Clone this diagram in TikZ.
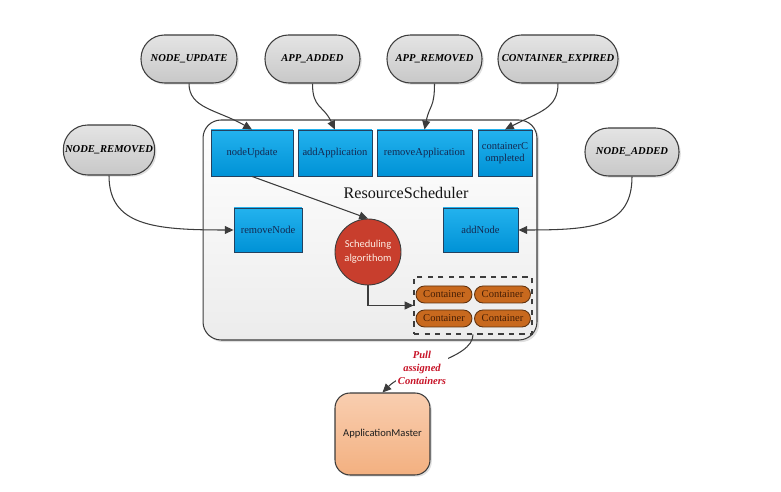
\documentclass[tikz,border=0pt]{standalone}
\usepackage{fontspec}
\setmainfont{Liberation Serif}
\newfontfamily\carlito{Carlito}
\usetikzlibrary{arrows.meta,shadows,shapes.geometric}
\definecolor{lineg}{RGB}{60,60,60}
\definecolor{bluetop}{RGB}{35,178,238}
\definecolor{bluebot}{RGB}{0,146,214}
\definecolor{blueline}{RGB}{35,65,95}
\definecolor{bluetext}{RGB}{20,40,80}
\definecolor{ovtop}{RGB}{228,228,228}
\definecolor{ovbot}{RGB}{200,200,200}
\definecolor{schedred}{RGB}{200,62,45}
\definecolor{contfill}{RGB}{200,105,30}
\definecolor{contline}{RGB}{95,50,15}
\definecolor{conttext}{RGB}{70,30,5}
\definecolor{amtop}{RGB}{249,206,176}
\definecolor{ambot}{RGB}{243,176,128}
\definecolor{pullred}{RGB}{200,20,40}
\tikzset{
  evt/.style={draw=lineg, line width=0.6pt, top color=ovtop, bottom color=ovbot,
    rounded corners=0.47cm, minimum height=0.96cm, inner sep=1pt,
    font=\fontsize{6}{7}\selectfont\bfseries\itshape,
    drop shadow={shadow xshift=1pt, shadow yshift=-1pt, opacity=0.25}},
  fn/.style={draw=blueline, line width=0.5pt, top color=bluetop, bottom color=bluebot,
    minimum height=0.92cm, inner sep=1pt, text=bluetext, align=center,
    font=\fontsize{6}{7}\selectfont},
  cont/.style={draw=contline, line width=0.5pt, fill=contfill, rounded corners=0.17cm,
    minimum width=1.12cm, minimum height=0.34cm, inner sep=0pt, text=conttext,
    font=\fontsize{6}{7}\selectfont},
  conn/.style={draw=lineg, line width=0.6pt, -{Triangle[length=5pt,width=4.5pt]}},
}
\begin{document}
\begin{tikzpicture}[x=0.02cm,y=-0.02cm]
\useasboundingbox (0,0) rectangle (781,492);
% big container
\node[draw=lineg, line width=0.6pt, top color=white, bottom color={rgb,255:red,236;green,236;blue,236},
  rounded corners=0.36cm, minimum width=6.68cm, minimum height=4.4cm,
  drop shadow={shadow xshift=1.2pt, shadow yshift=-1.2pt, opacity=0.25}] (rs) at (370,230) {};
\node[font=\fontsize{9.2}{10}\selectfont, text={rgb,255:red,20;green,20;blue,20}] (rslabel) at (406,193) {ResourceScheduler};
% event ovals
\node[evt, minimum width=1.92cm] (nu) at (189,59) {NODE\_UPDATE};
\node[evt, minimum width=1.90cm] (aa) at (312.5,59) {APP\_ADDED};
\node[evt, minimum width=1.90cm] (ar) at (434.5,59) {APP\_REMOVED};
\node[evt, minimum width=2.40cm] (ce) at (558,59) {CONTAINER\_EXPIRED};
\node[evt, minimum width=1.76cm, minimum height=1.0cm, rounded corners=0.49cm] (nr) at (109,150) {NODE\_REMOVED};
\node[evt, minimum width=1.88cm] (na) at (632,152) {NODE\_ADDED};
% function boxes
\node[fn, minimum width=1.64cm] (fnu) at (252,153) {nodeUpdate};
\node[fn, minimum width=1.48cm] (faa) at (335,153) {addApplication};
\node[fn, minimum width=1.90cm] (far) at (424.5,153) {removeApplication};
\node[fn, minimum width=1.08cm] (fcc) at (505,153) {containerC\\ompleted};
\node[fn, minimum width=1.36cm, minimum height=0.88cm] (frn) at (268,230) {removeNode};
\node[fn, minimum width=1.50cm, minimum height=0.88cm] (fan) at (480.5,230) {addNode};
% scheduler circle
\node[circle, draw=lineg, line width=0.5pt, fill=schedred, minimum size=1.32cm, inner sep=0pt,
  align=center, text={rgb,255:red,252;green,235;blue,225}, font=\carlito\fontsize{6}{8}\selectfont] (sched) at (368,252) {Scheduling\\algorithom};
% dashed container group
\node[draw=lineg, dashed, line width=0.6pt, minimum width=2.36cm, minimum height=1.14cm] (grp) at (473,305.5) {};
\node[cont] (c1) at (444,294.5) {Container};
\node[cont] (c2) at (502.5,294.5) {Container};
\node[cont] (c3) at (444,318.5) {Container};
\node[cont] (c4) at (502.5,318.5) {Container};
% application master
\node[draw=lineg, line width=0.6pt, top color=amtop, bottom color=ambot, rounded corners=0.3cm,
  minimum width=1.9cm, minimum height=1.64cm, text={rgb,255:red,30;green,30;blue,30},
  font=\carlito\fontsize{6}{7}\selectfont,
  drop shadow={shadow xshift=1pt, shadow yshift=-1pt, opacity=0.25}] (am) at (382.5,434) {ApplicationMaster};
% connectors
\draw[conn] (nu.south) .. controls +(0,25) and +(-35,-20) .. (fnu.north);
\draw[conn] (aa.south) .. controls +(0,25) and +(-12,-25) .. (faa.north);
\draw[conn] (ar.south) .. controls +(0,25) and +(5,-25) .. (far.north);
\draw[conn] (ce.south) .. controls +(0,25) and +(35,-18) .. (fcc.north);
\draw[conn] (nr.south) .. controls +(0,50) and +(-80,0) .. (frn.west);
\draw[conn] (na.south) .. controls +(0,50) and +(75,0) .. (fan.east);
\draw[conn] (fnu.south) -- (sched.north);
\draw[conn] (sched.south) |- (grp.west);
\draw[conn] (grp.south) .. controls +(0,25) and +(25,-25) .. (am.north);
\node[fill=white, inner sep=1pt, align=center, text=pullred,
  font=\fontsize{6}{7.6}\selectfont\bfseries\itshape] (pull) at (422,368) {Pull\\assigned\\Containers};
\end{tikzpicture}
\end{document}
